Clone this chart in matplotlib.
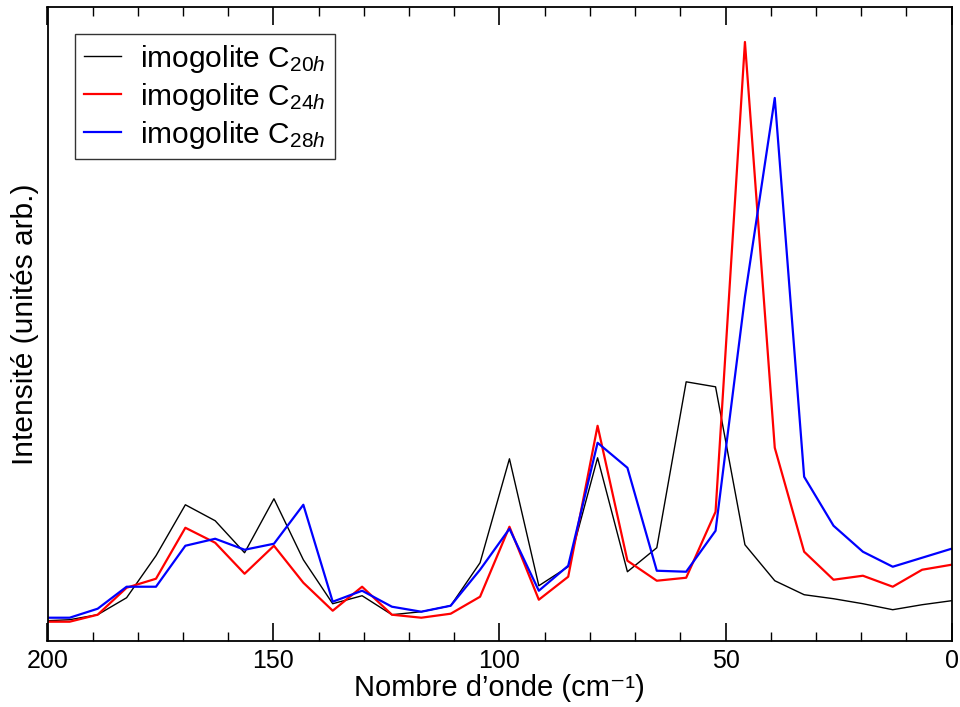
import matplotlib
matplotlib.use("Agg")
import matplotlib.pyplot as plt
from matplotlib.ticker import MultipleLocator

# ---------- DATA ----------
wavenumber = [200.0, 195.1, 188.9, 182.5, 176.0, 169.5, 162.9, 156.4, 149.9, 143.4,
              136.9, 130.4, 123.8, 117.3, 110.8, 104.3, 97.8, 91.3, 84.8, 78.3,
              71.7, 65.2, 58.7, 52.2, 45.7, 39.1, 32.6, 26.1, 19.6, 13.0, 6.5, 0.0]

c20h = [20, 21, 26, 43, 85, 136, 120, 88, 142, 81,
        37, 45, 26, 29, 35, 78, 182, 55, 74, 183,
        69, 93, 259, 254, 96, 60, 46, 42, 37, 31, 36, 40]

c24h = [19, 19, 26, 53, 62, 113, 98, 67, 95, 58,
        30, 54, 26, 23, 27, 44, 114, 41, 64, 215,
        80, 60, 63, 129, 599, 193, 89, 61, 65, 54, 71, 76]

c28h = [23, 23, 32, 54, 54, 95, 102, 91, 97, 136,
        39, 50, 34, 29, 35, 71, 112, 50, 75, 198,
        173, 70, 69, 110, 344, 543, 164, 115, 89, 74, 83, 92]

labels = [r"imogolite C$_{\mathit{20h}}$",
          r"imogolite C$_{\mathit{24h}}$",
          r"imogolite C$_{\mathit{28h}}$"]
# ----------------------------------------------------

plt.rcParams["font.family"] = ["Liberation Sans", "DejaVu Sans"]
plt.rcParams["mathtext.fontset"] = "custom"
plt.rcParams["mathtext.rm"] = "Liberation Sans"
plt.rcParams["mathtext.it"] = "Liberation Sans:italic"

fig = plt.figure(figsize=(9.6, 7.07), dpi=100)
ax = fig.add_axes([47.5 / 960, (707 - 640.7) / 707, 904 / 960, (640.7 - 7) / 707])

ax.plot(wavenumber, c20h, color="black", lw=1.0, label=labels[0])
ax.plot(wavenumber, c24h, color="red", lw=1.6, label=labels[1])
ax.plot(wavenumber, c28h, color="blue", lw=1.6, label=labels[2])

ax.set_xlim(200, 0)
ax.set_ylim(0, 634)

ax.xaxis.set_major_locator(MultipleLocator(50))
ax.xaxis.set_minor_locator(MultipleLocator(10))
ax.tick_params(axis="x", which="both", direction="in", top=True, labelsize=18, pad=6)
ax.tick_params(axis="x", which="major", length=13, width=1.2)
ax.tick_params(axis="x", which="minor", length=6.5, width=1.0)
ax.set_yticks([])
for s in ax.spines.values():
    s.set_linewidth(1.3)

ax.set_xlabel("Nombre d’onde (cm⁻¹)", fontsize=21, labelpad=1)
ax.set_ylabel("Intensité (unités arb.)", fontsize=21.5, labelpad=6)

leg = ax.legend(loc="upper left", bbox_to_anchor=(0.030, 0.958), fontsize=21.5,
                frameon=True, fancybox=False, shadow=False, handlelength=1.25,
                handletextpad=0.65, borderpad=0.3, labelspacing=0.2, borderaxespad=0)
leg.get_frame().set_edgecolor("black")
leg.get_frame().set_linewidth(1.0)

fig.savefig("out.png", dpi=100)
